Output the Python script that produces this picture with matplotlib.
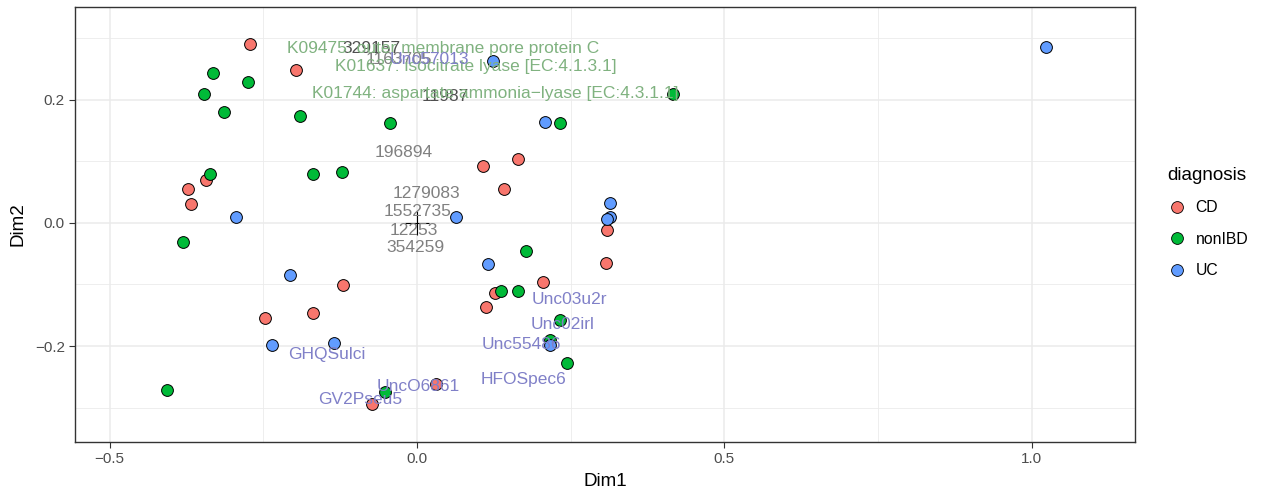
import matplotlib
matplotlib.use("Agg")
import matplotlib.pyplot as plt
from matplotlib.lines import Line2D

plt.rcParams['font.family'] = ['Liberation Sans', 'DejaVu Sans']

# sample scores on the first two dimensions, by diagnosis
cd_x = [-0.272, -0.197, -0.343, -0.372, -0.368, -0.248, -0.169, -0.121, 0.107,
        0.164, 0.141, 0.309, 0.308, 0.205, 0.126, 0.112, 0.031, -0.073]
cd_y = [0.291, 0.249, 0.070, 0.056, 0.031, -0.155, -0.147, -0.101, 0.093,
        0.104, 0.055, -0.012, -0.065, -0.096, -0.114, -0.137, -0.261, -0.294]

nonibd_x = [-0.332, -0.275, -0.346, -0.314, -0.190, -0.044, -0.337, -0.169, -0.122,
            -0.380, -0.407, 0.416, 0.233, 0.177, 0.136, 0.164, 0.232, 0.216,
            0.244, -0.052]
nonibd_y = [0.243, 0.229, 0.209, 0.181, 0.174, 0.163, 0.080, 0.080, 0.083,
            -0.031, -0.272, 0.209, 0.163, -0.045, -0.110, -0.111, -0.157, -0.190,
            -0.228, -0.274]

uc_x = [1.023, 0.123, 0.208, 0.314, 0.314, 0.309, 0.063, -0.295, -0.206,
        0.115, -0.135, -0.236, 0.216]
uc_y = [0.286, 0.263, 0.164, 0.032, 0.009, 0.0065, 0.009, 0.010, -0.084,
        -0.067, -0.195, -0.198, -0.199]

# OTU ids
otu_labels = ['196894', '1279083', '1552735', '12253', '354259', '1163705']
otu_x = [-0.022, 0.015, 0.0005, -0.005, -0.002, -0.029]
otu_y = [0.115, 0.048, 0.018, -0.0125, -0.040, 0.265]
# ids printed twice (overlapping)
otu2_labels = ['329157', '11987']
otu2_x = [-0.075, 0.046]
otu2_y = [0.283, 0.206]

# KEGG orthologs
ko_labels = ['K09475: outer membrane pore protein C',
             'K01637: isocitrate lyase [EC:4.1.3.1]',
             'K01744: aspartate ammonia\u2212lyase [EC:4.3.1.1]']
ko_x = [0.042, 0.096, 0.127]
ko_y = [0.283, 0.254, 0.210]

# taxa
tax_labels = ['Unc57013', 'Unc03u2r', 'Unc02irl', 'Unc55486', 'HFOSpec6',
              'UncO6861', 'GV2Pseu5', 'GHQSulci']
tax_x = [0.020, 0.247, 0.236, 0.170, 0.173, 0.0015, -0.093, -0.147]
tax_y = [0.265, -0.124, -0.165, -0.197, -0.255, -0.266, -0.287, -0.213]

groups = ['CD', 'nonIBD', 'UC']
colors = ['#F8766D', '#00BA38', '#619CFF']

fig = plt.figure(figsize=(12.7, 4.94), dpi=100)
ax = fig.add_axes([0.0588, 0.1053, 0.8349, 0.8805])

for xs, ys, c in zip([cd_x, nonibd_x, uc_x], [cd_y, nonibd_y, uc_y], colors):
    ax.scatter(xs, ys, s=72, c=c, edgecolors='black', linewidths=0.7, zorder=3)

ax.plot([0], [0], marker='+', color='black', markersize=17, markeredgewidth=0.8,
        linestyle='none', zorder=4)

fs = 12.5
for lab, x, y in zip(otu_labels, otu_x, otu_y):
    ax.text(x, y, lab, color='#808080', fontsize=fs, ha='center', va='center', zorder=5)
for lab, x, y in zip(otu2_labels, otu2_x, otu2_y):
    ax.text(x, y, lab, color='#505050', fontsize=fs, ha='center', va='center', zorder=5)
for lab, x, y in zip(ko_labels, ko_x, ko_y):
    ax.text(x, y, lab, color='#80B280', fontsize=fs, ha='center', va='center', zorder=5)
for lab, x, y in zip(tax_labels, tax_x, tax_y):
    ax.text(x, y, lab, color='#8080C8', fontsize=fs, ha='center', va='center', zorder=5)

ax.set_xlim(-0.557, 1.168)
ax.set_ylim(-0.356, 0.351)
ax.set_xticks([-0.5, 0.0, 0.5, 1.0])
ax.set_xticklabels(['\u22120.5', '0.0', '0.5', '1.0'])
ax.set_yticks([-0.2, 0.0, 0.2])
ax.set_yticklabels(['\u22120.2', '0.0', '0.2'])
ax.set_xticks([-0.25, 0.25, 0.75], minor=True)
ax.set_yticks([-0.3, -0.1, 0.1, 0.3], minor=True)
ax.grid(True, which='major', color='#EBEBEB', linewidth=1.1, zorder=0)
ax.grid(True, which='minor', color='#EBEBEB', linewidth=0.6, zorder=0)
ax.set_axisbelow(True)
ax.tick_params(which='major', length=4, width=0.8, color='#333333',
               labelcolor='#4D4D4D', labelsize=11, pad=3)
ax.tick_params(which='minor', length=0)
for sp in ax.spines.values():
    sp.set_color('#333333')
    sp.set_linewidth(1.0)

ax.set_xlabel('Dim1', fontsize=13.6, labelpad=5)
ax.set_ylabel('Dim2', fontsize=13.6, labelpad=6)

handles = [Line2D([], [], marker='o', linestyle='none', markersize=8.5,
                  markerfacecolor=c, markeredgecolor='black', markeredgewidth=0.6)
           for c in colors]
leg = fig.legend(handles, groups, title='diagnosis', loc='center left',
                 bbox_to_anchor=(0.908, 0.55), frameon=False, fontsize=11.3,
                 title_fontsize=13.6, handletextpad=0.6, labelspacing=1.05,
                 handlelength=1.2)
leg._legend_box.align = 'left'

fig.savefig('out.png', dpi=100)
